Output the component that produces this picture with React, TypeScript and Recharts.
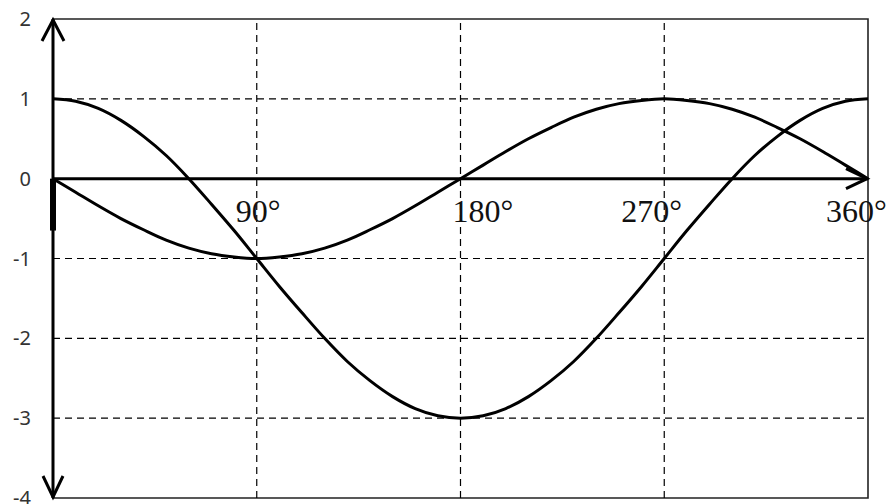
import React from 'react';
import { LineChart, Line, XAxis, YAxis, ReferenceLine, ReferenceArea, ReferenceDot } from 'recharts';

const angles = [0, 10, 20, 30, 40, 50, 60, 70, 80, 90, 100, 110, 120, 130, 140, 150, 160, 170, 180,
  190, 200, 210, 220, 230, 240, 250, 260, 270, 280, 290, 300, 310, 320, 330, 340, 350, 360];
const curveA = [1, 0.97, 0.88, 0.73, 0.53, 0.29, 0, -0.32, -0.65, -1, -1.35, -1.68, -2, -2.29, -2.53, -2.73, -2.88, -2.97, -3,
  -2.97, -2.88, -2.73, -2.53, -2.29, -2, -1.68, -1.35, -1, -0.65, -0.32, 0, 0.29, 0.53, 0.73, 0.88, 0.97, 1];
const curveB = [0, -0.17, -0.34, -0.5, -0.64, -0.77, -0.87, -0.94, -0.98, -1, -0.98, -0.94, -0.87, -0.77, -0.64, -0.5, -0.34, -0.17, 0,
  0.17, 0.34, 0.5, 0.64, 0.77, 0.87, 0.94, 0.98, 1, 0.98, 0.94, 0.87, 0.77, 0.64, 0.5, 0.34, 0.17, 0];
const yTicks = [2, 1, 0, -1, -2, -3, -4];
const yGrid = [1, -1, -2, -3];
const xGrid = [90, 180, 270];
const xLabels = ['90°', '180°', '270°', '360°'];
const xLabelAt = [90, 180, 270, 360];
const xLabelDx = [-21, -8, -43, -42];

const data = angles.map((x, i) => ({ x, a: curveA[i], b: curveB[i] }));

const yAxisShape = (p: any) => {
  const x = p.x1;
  const top = Math.min(p.y1, p.y2);
  const bot = Math.max(p.y1, p.y2);
  return (
    <g>
      <line x1={x} y1={top} x2={x} y2={bot} stroke="#000" strokeWidth={3} />
      <polyline points={`${x - 11},${top + 22} ${x},${top + 1} ${x + 11},${top + 22}`} fill="none" stroke="#000" strokeWidth={3} />
      <polyline points={`${x - 10},${bot - 22} ${x},${bot - 1} ${x + 10},${bot - 22}`} fill="none" stroke="#000" strokeWidth={3} />
    </g>
  );
};

const xAxisShape = (p: any) => {
  const y = p.y1;
  const left = Math.min(p.x1, p.x2);
  const right = Math.max(p.x1, p.x2);
  return (
    <g>
      <line x1={left} y1={y} x2={right} y2={y} stroke="#000" strokeWidth={3} />
      <polyline points={`${right - 22},${y - 10} ${right - 1},${y} ${right - 22},${y + 10}`} fill="none" stroke="#000" strokeWidth={3} />
    </g>
  );
};

export default function App() {
  return (
    <div style={{ position: 'absolute', left: 0, top: 0 }}>
      <LineChart width={891} height={504} data={data} margin={{ top: 19, right: 23, bottom: 6, left: 0 }}>
        <XAxis dataKey="x" type="number" domain={[0, 360]} hide height={0} />
        <YAxis
          type="number"
          domain={[-4, 2]}
          ticks={yTicks}
          interval={0}
          width={53}
          axisLine={false}
          tickLine={false}
          tickSize={0}
          tickMargin={22}
          tick={{ fill: '#333', fontSize: 20, fontFamily: 'Noto Sans' }}
          allowDataOverflow
        />
        {yGrid.map((v) => (
          <ReferenceLine key={'h' + v} y={v} stroke="#000" strokeWidth={1.2} strokeDasharray="7 5" ifOverflow="visible" />
        ))}
        {xGrid.map((v) => (
          <ReferenceLine key={'v' + v} x={v} stroke="#000" strokeWidth={1.2} strokeDasharray="7 5" ifOverflow="visible" />
        ))}
        <ReferenceArea x1={0} x2={360} y1={-4} y2={2} fill="none" stroke="#222" strokeWidth={1.6} ifOverflow="visible" />
        <ReferenceLine
          segment={[{ x: 0, y: 0 }, { x: 0, y: -0.65 }]}
          stroke="#000"
          strokeWidth={6}
          ifOverflow="visible"
        />
        <ReferenceLine x={0} shape={yAxisShape} ifOverflow="visible" />
        <ReferenceLine y={0} shape={xAxisShape} ifOverflow="visible" />
        <Line type="monotone" dataKey="a" stroke="#000" strokeWidth={3} dot={false} activeDot={false} isAnimationActive={false} />
        <Line type="monotone" dataKey="b" stroke="#000" strokeWidth={3} dot={false} activeDot={false} isAnimationActive={false} />
        {xLabelAt.map((v, i) => (
          <ReferenceDot
            key={'l' + v}
            x={v}
            y={0}
            r={0}
            fill="none"
            stroke="none"
            ifOverflow="visible"
            label={(props: any) => (
              <text
                x={props.viewBox.x + xLabelDx[i]}
                y={props.viewBox.y + 43}
                fontFamily="Liberation Serif"
                fontSize={32}
                fill="#111"
                textAnchor="start"
              >
                {xLabels[i]}
              </text>
            )}
          />
        ))}
      </LineChart>
    </div>
  );
}
